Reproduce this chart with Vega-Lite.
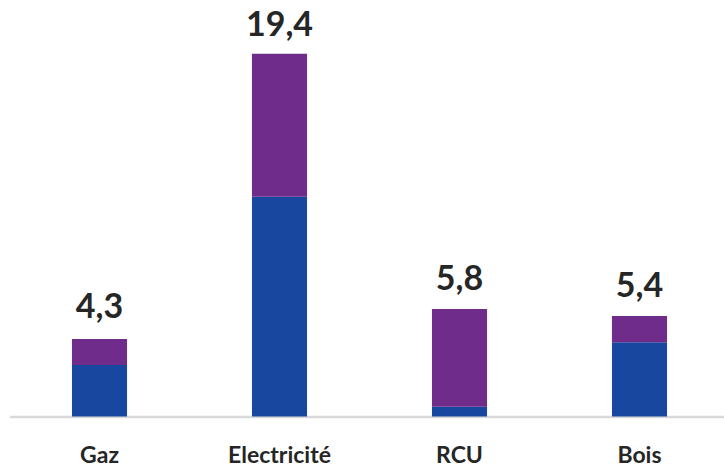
{
  "$schema": "https://vega.github.io/schema/vega-lite/v6.json",
  "autosize": {"type": "none"},
  "width": 720,
  "height": 411.5,
  "padding": {"left": 9.5, "top": 5, "right": 0, "bottom": 52.5},
  "background": "white",
  "config": {"view": {"stroke": null}},
  "datasets": {
    "segments": [
      {"categorie": "Gaz", "serie": "Série 1", "rang": 1, "valeur": 2.75},
      {"categorie": "Gaz", "serie": "Série 2", "rang": 2, "valeur": 1.4},
      {"categorie": "Electricité", "serie": "Série 1", "rang": 1, "valeur": 11.75},
      {"categorie": "Electricité", "serie": "Série 2", "rang": 2, "valeur": 7.65},
      {"categorie": "RCU", "serie": "Série 1", "rang": 1, "valeur": 0.52},
      {"categorie": "RCU", "serie": "Série 2", "rang": 2, "valeur": 5.23},
      {"categorie": "Bois", "serie": "Série 1", "rang": 1, "valeur": 3.97},
      {"categorie": "Bois", "serie": "Série 2", "rang": 2, "valeur": 1.4}
    ],
    "totaux": [
      {"categorie": "Gaz", "total": 4.3, "etiquette": "4,3"},
      {"categorie": "Electricité", "total": 19.4, "etiquette": "19,4"},
      {"categorie": "RCU", "total": 5.8, "etiquette": "5,8"},
      {"categorie": "Bois", "total": 5.4, "etiquette": "5,4"}
    ]
  },
  "encoding": {
    "x": {
      "field": "categorie",
      "type": "nominal",
      "sort": ["Gaz", "Electricité", "RCU", "Bois"],
      "scale": {"paddingInner": 0.694, "paddingOuter": 0.347},
      "axis": {
        "title": null,
        "labelAngle": 0,
        "ticks": false,
        "domainColor": "#d9d9d9",
        "domainWidth": 2.5,
        "labelFont": "Lato",
        "labelFontWeight": "bold",
        "labelFontSize": 23,
        "labelColor": "#262626",
        "labelPadding": 28
      }
    }
  },
  "layer": [
    {
      "data": {"name": "segments"},
      "mark": {"type": "bar"},
      "encoding": {
        "y": {
          "field": "valeur",
          "type": "quantitative",
          "stack": "zero",
          "scale": {"domain": [0, 22], "nice": false},
          "axis": null
        },
        "color": {
          "field": "serie",
          "type": "nominal",
          "scale": {"domain": ["Série 1", "Série 2"], "range": ["#17479E", "#6F2C8B"]},
          "legend": null
        },
        "order": {"field": "rang", "type": "quantitative"}
      }
    },
    {
      "data": {"name": "totaux"},
      "mark": {
        "type": "text",
        "font": "Lato",
        "fontWeight": "bold",
        "fontSize": 34,
        "color": "#262626",
        "baseline": "alphabetic",
        "dy": -18
      },
      "encoding": {
        "y": {"field": "total", "type": "quantitative"},
        "text": {"field": "etiquette", "type": "nominal"}
      }
    }
  ]
}
